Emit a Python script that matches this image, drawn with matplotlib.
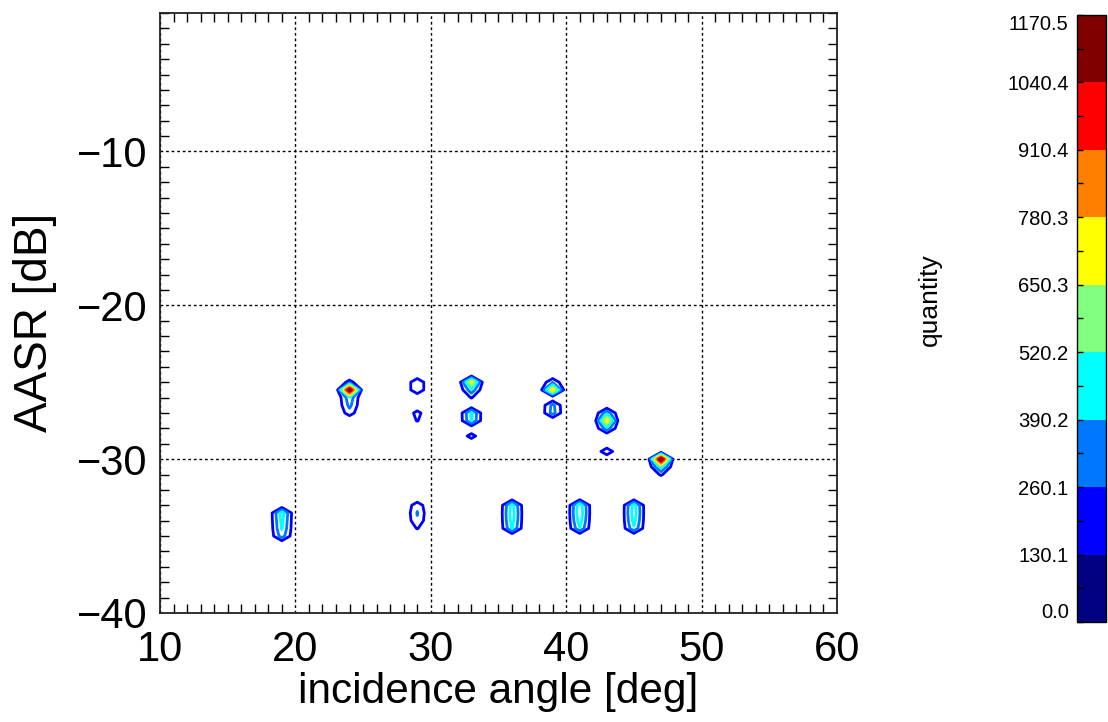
"""
AASR vs incidence angle: contour of sample counts with a discrete colour bar
"""
import numpy as np
import matplotlib
matplotlib.use('Agg')
import matplotlib.pyplot as plt
from matplotlib.colors import ListedColormap, BoundaryNorm
from matplotlib.colorbar import ColorbarBase

plt.rcParams['font.family'] = ['Liberation Sans', 'DejaVu Sans']

# colour bar levels (quantity)
cbar_levels = [0.0, 130.1, 260.1, 390.2, 520.2, 650.3, 780.3, 910.4, 1040.4, 1170.5]
cbar_labels = ['0.0', '130.1', '260.1', '390.2', '520.2', '650.3', '780.3',
               '910.4', '1040.4', '1170.5']
band_colors = ['#000080', '#0000ff', '#0077ff', '#00ffff', '#80ff80',
               '#ffff00', '#ff8000', '#ff0000', '#800000']

# histogram cells: angle [deg], AASR [dB], count
cell_angle = [19, 19, 19, 19,
              24, 24, 24, 24, 24,
              29, 29, 29, 29,
              29, 29, 29, 29,
              33, 33, 33, 33, 33, 33,
              36, 36, 36, 36,
              39, 39, 39, 39,
              41, 41, 41, 41,
              43, 43, 43, 43,
              45, 45, 45, 45,
              47, 47, 47]
cell_aasr = [-33.5, -34.0, -34.5, -35.0,
             -25.0, -25.5, -26.0, -26.5, -27.0,
             -25.0, -25.5, -27.0, -27.5,
             -33.0, -33.5, -34.0, -34.5,
             -25.0, -25.5, -26.0, -27.0, -27.5, -28.5,
             -33.0, -33.5, -34.0, -34.5,
             -25.0, -25.5, -26.5, -27.0,
             -33.0, -33.5, -34.0, -34.5,
             -27.0, -27.5, -28.0, -29.5,
             -33.0, -33.5, -34.0, -34.5,
             -30.0, -30.5, -31.0]
cell_count = [460, 430, 400, 330,
              180, 1120, 350, 300, 200,
              250, 250, 180, 140,
              220, 270, 240, 140,
              680, 350, 140, 420, 400, 190,
              440, 470, 450, 400,
              250, 720, 300, 320,
              480, 500, 460, 380,
              350, 720, 340, 230,
              450, 470, 440, 370,
              1150, 450, 150]

# grid of the histogram
angle_grid = np.arange(10, 61, 1.0)
aasr_grid = np.arange(-40, -0.99, 0.5)
counts = np.zeros((len(aasr_grid), len(angle_grid)))
for a, r, n in zip(cell_angle, cell_aasr, cell_count):
    ix = int(np.argmin(np.abs(angle_grid - a)))
    iy = int(np.argmin(np.abs(aasr_grid - r)))
    counts[iy, ix] = n

fig = plt.figure(figsize=(11.08, 7.22), dpi=100)
ax = fig.add_axes([0.1444, 0.151, 0.611, 0.831])

# contour lines, each level in the colour of the band above it
ax.contour(angle_grid, aasr_grid, counts, levels=cbar_levels[1:-1],
           colors=band_colors[1:], linewidths=2.0)

ax.set_xlim(10, 60)
ax.set_ylim(-40, -1)
ax.set_xticks([10, 20, 30, 40, 50, 60])
ax.set_yticks([-40, -30, -20, -10])
ax.set_xticks(np.arange(10, 61, 1), minor=True)
ax.set_yticks(np.arange(-40, -0.5, 1), minor=True)
ax.tick_params(which='major', length=0, labelsize=30)
ax.tick_params(axis='y', which='major', pad=9)
ax.tick_params(axis='x', which='major', pad=12)
ax.tick_params(which='minor', direction='in', length=6.5, width=1,
               top=True, right=True, bottom=True, left=True)
ax.grid(True, which='major', color='black', linestyle=(0, (2, 2)), linewidth=1)
for sp in ax.spines.values():
    sp.set_linewidth(1.3)
    sp.set_color('#222222')

ax.set_xlabel('incidence angle [deg]', fontsize=30.5, labelpad=2)
ax.set_ylabel('AASR [dB]', fontsize=33)
ax.yaxis.set_label_coords(-0.152, 0.485)

# discrete colour bar
cax = fig.add_axes([0.972, 0.1385, 0.026, 0.841])
cmap = ListedColormap(band_colors)
norm = BoundaryNorm(cbar_levels, cmap.N)
cb = ColorbarBase(cax, cmap=cmap, norm=norm, ticks=cbar_levels,
                  orientation='vertical')
cb.outline.set_linewidth(1)
cax.yaxis.set_ticks_position('left')
cax.yaxis.set_label_position('left')
cax.set_yticks(cbar_levels)
cax.set_yticklabels(cbar_labels)
mids = [(cbar_levels[i] + cbar_levels[i + 1]) / 2 for i in range(9)]
cax.set_yticks(mids, minor=True)
cax.tick_params(which='both', direction='in', length=4, width=1,
                labelsize=14.5, pad=6)
tl = cax.get_yticklabels()
tl[0].set_va('bottom')
tl[-1].set_va('top')

fig.text(930 / 1108, 1 - 300 / 722, 'quantity', rotation=90,
         fontsize=19, ha='center', va='center')

fig.savefig('out.png', dpi=100)
